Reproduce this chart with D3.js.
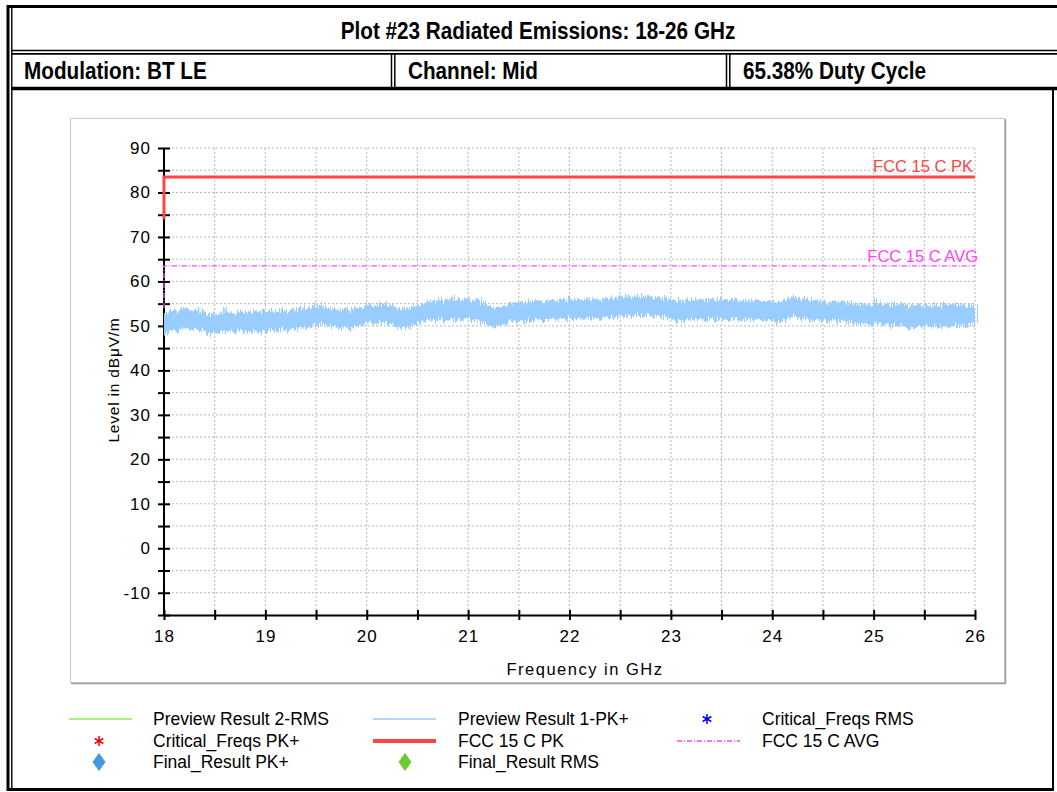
<!DOCTYPE html>
<html>
<head>
<meta charset="utf-8">
<script src="https://cdn.jsdelivr.net/npm/d3@7"></script>
<style>
  body { margin: 0; background: #fff; }
  svg { display: block; }
</style>
</head>
<body>
<div id="chart"></div>
<script>
// header texts
var plotTitle = "Plot #23 Radiated Emissions: 18-26 GHz";
var infoCells = ["Modulation: BT LE", "Channel: Mid", "65.38% Duty Cycle"];

// axis ticks
var xMajor = [18, 19, 20, 21, 22, 23, 24, 25, 26];
var xMinor = [18.5, 19.5, 20.5, 21.5, 22.5, 23.5, 24.5, 25.5];
var yMajor = [-10, 0, 10, 20, 30, 40, 50, 60, 70, 80, 90];
var yMinor = [-15, -5, 5, 15, 25, 35, 45, 55, 65, 75, 85];

// limit lines (GHz, dBuV/m)
var pkLimitFreq = [18, 18, 26];
var pkLimitLevel = [74, 83.5, 83.5];
var avgLimitFreq = [18, 18, 26];
var avgLimitLevel = [54, 63.5, 63.5];

// Preview Result 1-PK+ : band envelope
var traceFreq = [18.00, 18.11, 18.21, 18.36, 18.45, 18.65, 18.95, 19.14, 19.34, 19.52,
  19.64, 19.83, 19.98, 20.18, 20.38, 20.52, 20.62, 20.82, 21.02, 21.17,
  21.26, 21.41, 21.61, 21.81, 22.00, 22.30, 22.50, 22.69, 22.89, 23.09,
  23.29, 23.48, 23.68, 23.88, 24.07, 24.17, 24.37, 24.57, 24.77, 24.96,
  25.16, 25.36, 25.56, 25.75, 26.00];
var traceUpper = [52.7, 53.4, 53.6, 53.1, 52.6, 52.7, 53.1, 53.2, 53.6, 54.4,
  53.6, 53.6, 54.1, 54.7, 53.4, 54.7, 55.2, 55.9, 55.7, 54.7,
  53.9, 54.7, 55.4, 55.4, 56.0, 55.7, 56.4, 56.4, 56.2, 55.5,
  55.6, 55.7, 55.5, 55.5, 55.1, 56.2, 55.7, 55.1, 54.9, 54.7,
  54.7, 54.4, 54.5, 54.7, 54.1];
var traceLower = [48.4, 49.3, 49.5, 49.4, 48.6, 49.0, 48.8, 49.2, 49.5, 50.5,
  50.1, 49.7, 50.7, 50.9, 49.4, 51.3, 51.3, 51.6, 51.7, 50.5,
  50.1, 51.1, 51.3, 51.6, 52.0, 51.8, 52.4, 52.5, 52.4, 51.3,
  51.6, 51.6, 51.5, 51.6, 51.0, 52.3, 51.6, 51.3, 50.9, 50.7,
  50.5, 49.7, 50.3, 50.1, 50.4];
// single peaks sticking out of the band
var spikeFreq = [18.08, 18.35, 18.62, 19.03, 19.5, 19.72, 20.2, 20.85, 21.1, 21.5,
  21.95, 22.2, 22.58, 22.72, 23.35, 23.6, 24.2, 24.4, 24.65, 25.05, 25.7, 25.9];
var spikeLevel = [54.0, 54.5, 54.2, 54.0, 54.8, 54.6, 55.3, 56.6, 56.3, 55.6,
  56.7, 56.6, 57.3, 56.9, 56.5, 56.4, 56.6, 56.5, 55.9, 55.6, 55.3, 55.0];

// legend entries
var legendItems = [
  { label: "Preview Result 2-RMS", type: "line", color: "#88ee55", col: 0, row: 0 },
  { label: "Critical_Freqs PK+", type: "star", color: "#ff0000", col: 0, row: 1 },
  { label: "Final_Result PK+", type: "diamond", color: "#4499dd", col: 0, row: 2 },
  { label: "Preview Result 1-PK+", type: "line", color: "#99ccff", col: 1, row: 0 },
  { label: "FCC 15 C PK", type: "thick", color: "#ff4444", col: 1, row: 1 },
  { label: "Final_Result RMS", type: "diamond", color: "#66cc33", col: 1, row: 2 },
  { label: "Critical_Freqs RMS", type: "star", color: "#0000ff", col: 2, row: 0 },
  { label: "FCC 15 C AVG", type: "dashdot", color: "#ff44ff", col: 2, row: 1 }
];

var W = 1057, H = 792;
var svg = d3.select('#chart').append('svg')
  .attr('width', W)
  .attr('height', H);

var plain = "'Liberation Sans', Arial, sans-serif";

// squeeze text horizontally like the narrow font of the original
function narrowText(sel, factor) {
  sel.each(function() {
    var len = this.getComputedTextLength();
    d3.select(this).attr('textLength', len * factor).attr('lengthAdjust', 'spacingAndGlyphs');
  });
}

// noise texture for the trace band edges
var defs = svg.append('defs');
var filt = defs.append('filter').attr('id', 'grass')
  .attr('x', '-2%').attr('y', '-60%').attr('width', '104%').attr('height', '220%');
filt.append('feTurbulence')
  .attr('type', 'fractalNoise')
  .attr('baseFrequency', '0.7 0.004')
  .attr('numOctaves', 2)
  .attr('seed', 3)
  .attr('result', 'noise');
filt.append('feDisplacementMap')
  .attr('in', 'SourceGraphic')
  .attr('in2', 'noise')
  .attr('scale', 13)
  .attr('xChannelSelector', 'B')
  .attr('yChannelSelector', 'R');

//FRAME
function hline(x1, x2, y, w) {
  svg.append('line').attr('x1', x1).attr('x2', x2).attr('y1', y).attr('y2', y)
    .attr('stroke', '#000').attr('stroke-width', w);
}
function vline(x, y1, y2, w) {
  svg.append('line').attr('x1', x).attr('x2', x).attr('y1', y1).attr('y2', y2)
    .attr('stroke', '#000').attr('stroke-width', w);
}
hline(7, W, 6.5, 3);
hline(11, W, 50.5, 1.6);
hline(11, W, 53.9, 1.6);
hline(11, W, 88.5, 3.5);
hline(7, 1054, 789.5, 3);
vline(8, 5, 791, 3);
vline(11.8, 8, 789, 1.4);
vline(1053, 90, 791, 2);
vline(391.5, 54, 87, 1.5);
vline(394.8, 54, 87, 1.5);
vline(726.5, 54, 87, 1.5);
vline(729.8, 54, 87, 1.5);

svg.append('text')
  .attr('x', 538).attr('y', 39)
  .attr('text-anchor', 'middle')
  .attr('font-family', plain)
  .attr('font-weight', 'bold')
  .attr('font-size', 23)
  .text(plotTitle)
  .call(narrowText, 0.9);

var cellX = [24, 408, 743];
svg.selectAll('.cell').data(infoCells).enter().append('text')
  .attr('class', 'cell')
  .attr('x', function(d, i) { return cellX[i]; })
  .attr('y', 79)
  .attr('font-family', plain)
  .attr('font-weight', 'bold')
  .attr('font-size', 23)
  .text(function(d) { return d; })
  .call(narrowText, 0.9);

//CHART PANEL
svg.append('rect')
  .attr('x', 70.5).attr('y', 118.5)
  .attr('width', 934).attr('height', 564)
  .attr('fill', '#fff')
  .attr('stroke', '#c8c8c8');
svg.append('line').attr('x1', 1005.5).attr('x2', 1005.5).attr('y1', 119).attr('y2', 684)
  .attr('stroke', '#a0a0a0').attr('stroke-width', 1.5);
svg.append('line').attr('x1', 71).attr('x2', 1006).attr('y1', 683.5).attr('y2', 683.5)
  .attr('stroke', '#a0a0a0').attr('stroke-width', 1.5);

var x = d3.scaleLinear().domain([18, 26]).range([164, 975]);
var y = d3.scaleLinear().domain([-15, 90]).range([615, 148]);

// grid
var grid = svg.append('g').attr('stroke', '#b8b8b8').attr('stroke-dasharray', '2,2').attr('stroke-width', 1);
xMajor.concat(xMinor).filter(function(d) { return d > 18; }).forEach(function(d) {
  grid.append('line').attr('x1', x(d)).attr('x2', x(d)).attr('y1', y(90)).attr('y2', y(-15));
});
yMajor.concat(yMinor).filter(function(d) { return d > -15; }).forEach(function(d) {
  grid.append('line').attr('x1', x(18)).attr('x2', x(26)).attr('y1', y(d)).attr('y2', y(d));
});

//AXES
var yAxis = svg.append('g')
  .attr('transform', 'translate(' + x(18) + ',0)')
  .call(d3.axisLeft(y).tickValues(yMajor).tickFormat(function(d) { return String(d); })
    .tickSizeInner(6).tickSizeOuter(0).tickPadding(7));
var yMinorAxis = svg.append('g')
  .attr('transform', 'translate(' + x(18) + ',0)')
  .call(d3.axisLeft(y).tickValues(yMinor).tickSize(6).tickFormat(''));
var xAxis = svg.append('g')
  .attr('transform', 'translate(0,' + y(-15) + ')')
  .call(d3.axisBottom(x).tickValues(xMajor).tickSizeInner(5).tickSizeOuter(0).tickPadding(10));
var xMinorAxis = svg.append('g')
  .attr('transform', 'translate(0,' + y(-15) + ')')
  .call(d3.axisBottom(x).tickValues(xMinor).tickSize(5).tickFormat(''));

[yAxis, yMinorAxis].forEach(function(a) {
  a.selectAll('.tick line').attr('x1', -6).attr('x2', 6).attr('stroke-width', 2);
});
[xAxis, xMinorAxis].forEach(function(a) {
  a.selectAll('.tick line').attr('y1', -5).attr('y2', 5).attr('stroke-width', 2);
});
svg.selectAll('.domain').attr('stroke-width', 2);
yMinorAxis.select('.domain').remove();
xMinorAxis.select('.domain').remove();
yAxis.select('.domain').attr('d', 'M0,' + y(90) + 'V' + y(-15));

svg.selectAll('.tick text')
  .attr('font-family', plain)
  .attr('font-size', 17)
  .attr('letter-spacing', '1')
  .attr('fill', '#000');

svg.append('text')
  .attr('transform', 'translate(119,380) rotate(-90)')
  .attr('text-anchor', 'middle')
  .attr('font-family', plain)
  .attr('font-size', 15.5)
  .attr('letter-spacing', '0.8')
  .text('Level in dBμV/m');
svg.append('text')
  .attr('x', 585).attr('y', 675)
  .attr('text-anchor', 'middle')
  .attr('font-family', plain)
  .attr('font-size', 16.5)
  .attr('letter-spacing', '1.5')
  .text('Frequency in GHz');

// trace band
var band = traceFreq.map(function(f, i) { return { f: f, hi: traceUpper[i], lo: traceLower[i] }; });
var area = d3.area()
  .x(function(d) { return x(d.f); })
  .y0(function(d) { return y(d.lo); })
  .y1(function(d) { return y(d.hi); })
  .curve(d3.curveLinear);
var trace = svg.append('g').attr('filter', 'url(#grass)');
trace.append('path').datum(band)
  .attr('d', area)
  .attr('fill', '#99ccff')
  .attr('stroke', '#99ccff')
  .attr('stroke-width', 2);

var spikes = spikeFreq.map(function(f, i) { return { f: f, v: spikeLevel[i] }; });
trace.selectAll('.spike').data(spikes).enter().append('line')
  .attr('class', 'spike')
  .attr('x1', function(d) { return x(d.f); })
  .attr('x2', function(d) { return x(d.f); })
  .attr('y1', function(d) { return y(d.v); })
  .attr('y2', function(d) { return y(d.v - 3); })
  .attr('stroke', '#99ccff')
  .attr('stroke-width', 1.5);

// limit lines
var lim = d3.line().x(function(d) { return x(d[0]); }).y(function(d) { return y(d[1]); });
svg.append('path')
  .datum(avgLimitFreq.map(function(f, i) { return [f, avgLimitLevel[i]]; }))
  .attr('d', lim)
  .attr('fill', 'none')
  .attr('stroke', '#ff44ff')
  .attr('stroke-width', 1.3)
  .attr('stroke-dasharray', '5,2,1,2');
svg.append('path')
  .datum(pkLimitFreq.map(function(f, i) { return [f, pkLimitLevel[i]]; }))
  .attr('d', lim)
  .attr('fill', 'none')
  .attr('stroke', '#ff4444')
  .attr('stroke-width', 3);

svg.append('text')
  .attr('x', 973).attr('y', y(83.5) - 5)
  .attr('text-anchor', 'end')
  .attr('font-family', plain)
  .attr('font-size', 16.5)
  .attr('fill', '#ff4444')
  .text('FCC 15 C PK');
svg.append('text')
  .attr('x', 978).attr('y', y(63.5) - 4)
  .attr('text-anchor', 'end')
  .attr('font-family', plain)
  .attr('font-size', 16.5)
  .attr('fill', '#ff44ff')
  .text('FCC 15 C AVG');

//LEGEND
var colX = [69, 373, 677];
var markX = [99, 405, 707];
var textX = [153, 458, 762];
var rowY = [719, 741, 762];
var leg = svg.append('g');
legendItems.forEach(function(d) {
  var cy = rowY[d.row];
  if (d.type == 'line' || d.type == 'thick' || d.type == 'dashdot') {
    leg.append('line')
      .attr('x1', colX[d.col]).attr('x2', colX[d.col] + 63)
      .attr('y1', cy).attr('y2', cy)
      .attr('stroke', d.color)
      .attr('stroke-width', d.type == 'thick' ? 4 : 1.3)
      .attr('stroke-dasharray', d.type == 'dashdot' ? '5,2,1,2' : null);
  } else if (d.type == 'star') {
    leg.append('path')
      .attr('d', d3.symbol().type(d3.symbolAsterisk).size(70))
      .attr('transform', 'translate(' + markX[d.col] + ',' + cy + ')')
      .attr('fill', 'none')
      .attr('stroke', d.color)
      .attr('stroke-width', 1.5);
  } else {
    leg.append('path')
      .attr('d', 'M0,-9L6.5,0L0,9L-6.5,0Z')
      .attr('transform', 'translate(' + markX[d.col] + ',' + cy + ')')
      .attr('fill', d.color);
  }
  leg.append('text')
    .attr('x', textX[d.col]).attr('y', cy + 6)
    .attr('font-family', plain)
    .attr('font-size', 17.5)
    .text(d.label);
});
</script>
</body>
</html>
